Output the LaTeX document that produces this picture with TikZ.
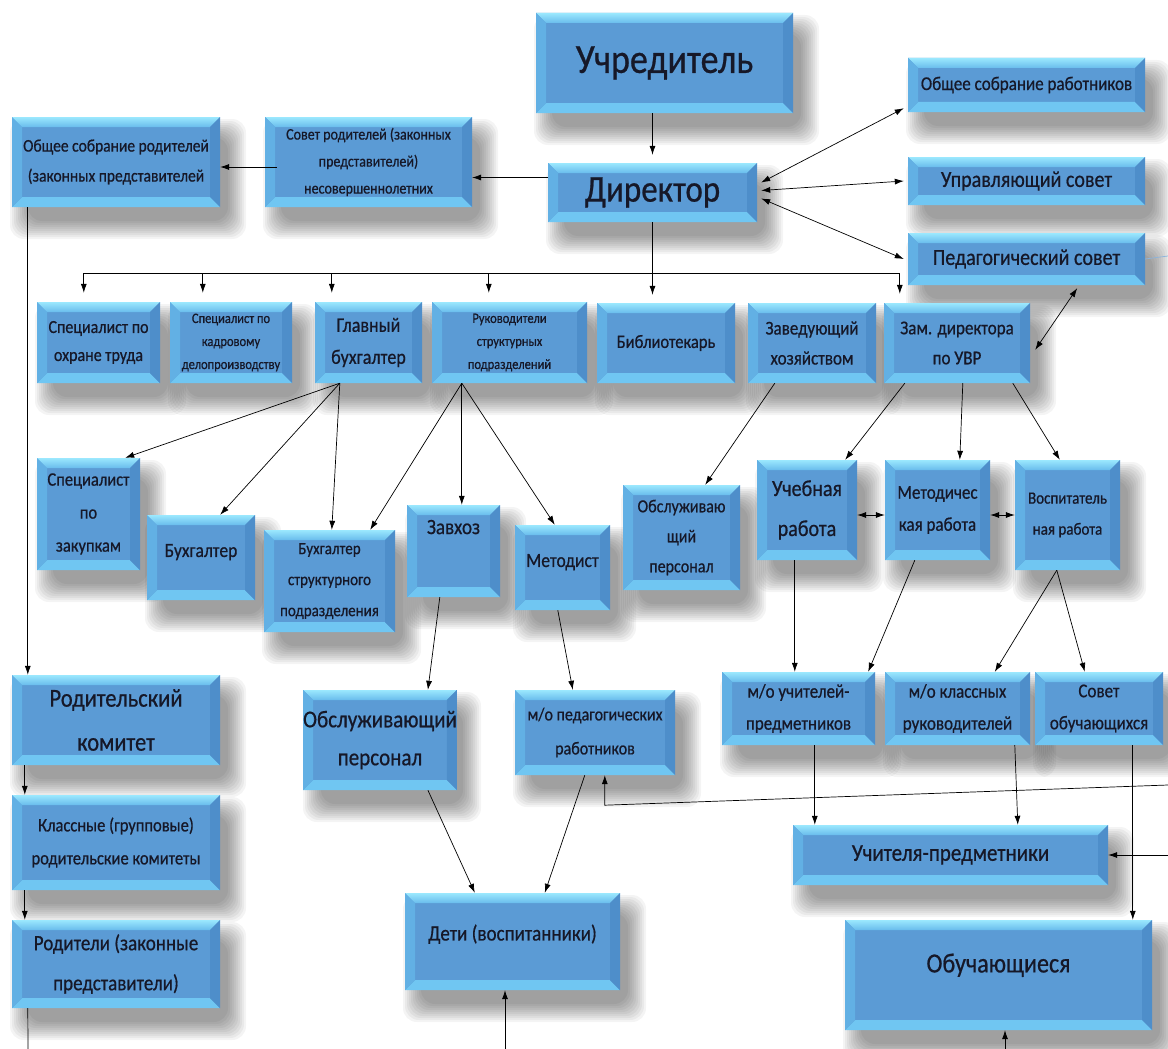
\documentclass[tikz,border=0pt]{standalone}
\usepackage{fontspec}
\setmainfont{Carlito}[FakeStretch=0.87,FakeBold=0.6]
\usetikzlibrary{arrows.meta,calc}
\definecolor{face}{RGB}{91,155,213}
\definecolor{bvtopA}{RGB}{155,232,254}
\definecolor{bvtopB}{RGB}{105,188,236}
\definecolor{bvbot}{RGB}{112,198,242}
\definecolor{bvleft}{RGB}{98,176,228}
\definecolor{bvright}{RGB}{78,142,202}
\definecolor{txt}{RGB}{22,24,40}
\definecolor{lblue}{RGB}{140,180,220}
\pgfdeclarelayer{bg}
\pgfsetlayers{bg,main}
\tikzset{
 bevel/.style={path picture={
  \coordinate (ppnw) at (path picture bounding box.north west);
  \coordinate (ppne) at (path picture bounding box.north east);
  \coordinate (ppsw) at (path picture bounding box.south west);
  \coordinate (ppse) at (path picture bounding box.south east);
  \fill[top color=bvtopA, bottom color=bvtopB] (ppnw) -- (ppne) -- ([shift={(-10pt,-10pt)}]ppne) -- ([shift={(10pt,-10pt)}]ppnw) -- cycle;
  \fill[bvbot] (ppsw) -- (ppse) -- ([shift={(-10pt,10pt)}]ppse) -- ([shift={(10pt,10pt)}]ppsw) -- cycle;
  \fill[bvleft] (ppnw) -- ([shift={(10pt,-10pt)}]ppnw) -- ([shift={(10pt,10pt)}]ppsw) -- (ppsw) -- cycle;
  \fill[bvright] (ppne) -- ([shift={(-10pt,-10pt)}]ppne) -- ([shift={(-10pt,10pt)}]ppse) -- (ppse) -- cycle;
 }},
 box/.style={fill=face, inner sep=0pt, align=center, text=txt, bevel},
 shadowpiece/.style={fill=black, rounded corners=14pt},
 arr/.style={-{Latex[length=9pt,width=6pt]}, line width=0.7pt},
 darr/.style={{Latex[length=9pt,width=6pt]}-{Latex[length=9pt,width=6pt]}, line width=0.7pt},
 ln/.style={line width=0.7pt}
}
\newcommand\mybox[8]{%
 \begin{pgfonlayer}{bg}
 \foreach \w in {36,32,28,24,20,16,12,8,4,0}{\fill[shadowpiece, opacity=0.042] ({#2+16-\w/2},{#3+20-\w/2}) rectangle ({#4+8+\w/2},{#5+14+\w/2});}
 \end{pgfonlayer}
 \pgfmathsetmacro\myfs{#6*1.15}%
 \node[box, font=\fontsize{\myfs}{#7}\selectfont, minimum width={(#4-#2)*1pt}, minimum height={(#5-#3)*1pt}] (#1) at ({(#2+#4)/2},{(#3+#5)/2}) {#8};}
\begin{document}
\begin{tikzpicture}[x=1pt,y=-1pt]
\begin{pgfonlayer}{bg}
\fill[white] (0,0) rectangle (1168,1049);
\end{pgfonlayer}
\useasboundingbox (0,0) rectangle (1168,1049);
% top
\mybox{uchr}{536}{13}{793}{113}{36}{40}{Учредитель}
\mybox{osr}{908}{58}{1145}{112}{17}{20}{Общее собрание работников}
\mybox{dir}{548}{163}{757}{222}{33}{36}{Директор}
\mybox{srod}{265}{117}{472}{207}{14}{27}{Совет родителей (законных\\представителей)\\несовершеннолетних}
\mybox{osrod}{12}{117}{220}{207}{15.5}{30}{Общее собрание родителей\\(законных представителей}
\mybox{us}{908}{157}{1145}{205}{20}{24}{Управляющий совет}
\mybox{ps}{908}{233}{1145}{285}{20}{24}{Педагогический совет}
% row 2
\mybox{sot}{37}{302}{160}{383}{16}{28}{Специалист по\\охране труда}
\mybox{skd}{170}{302}{292}{383}{12.5}{23}{Специалист по\\кадровому\\делопроизводству}
\mybox{gb}{315}{302}{422}{383}{18}{32}{Главный\\бухгалтер}
\mybox{rsp}{432}{302}{587}{383}{12.5}{23}{Руководители\\структурных\\подразделений}
\mybox{bib}{597}{303}{735}{383}{16.5}{20}{Библиотекарь}
\mybox{zh}{748}{303}{876}{383}{17}{30}{Заведующий\\хозяйством}
\mybox{zd}{884}{303}{1030}{383}{17}{30}{Зам. директора\\по УВР}
% row 3
\mybox{spz}{37}{458}{140}{570}{16.5}{33}{Специалист\\по\\закупкам}
\mybox{bux}{147}{515}{255}{600}{17.5}{14}{Бухгалтер\\~}
\mybox{bsp}{264}{530}{395}{632}{15}{31}{Бухгалтер\\структурного\\подразделения}
\mybox{zavh}{407}{505}{500}{597}{19}{48}{Завхоз\\~}
\mybox{met}{515}{525}{610}{610}{17.5}{14}{Методист\\~}
\mybox{obs1}{623}{485}{740}{590}{16}{30}{Обслуживаю\\щий\\персонал}
\mybox{ucheb}{757}{460}{857}{560}{20}{40}{Учебная\\работа}
\mybox{metr}{885}{460}{990}{560}{17}{32}{Методичес\\кая работа}
\mybox{vosp}{1015}{460}{1120}{570}{15}{31}{Воспитатель\\ная работа}
% row 4
\mybox{obs2}{305}{690}{455}{790}{21}{38}{Обслуживающий\\персонал}
\mybox{mop}{515}{690}{675}{775}{16}{34}{м/о педагогических\\работников}
\mybox{mou}{722}{672}{875}{745}{17}{32}{м/о учителей-\\предметников}
\mybox{mok}{885}{672}{1030}{745}{17}{32}{м/о классных\\руководителей}
\mybox{sob}{1035}{672}{1163}{745}{17}{32}{Совет\\обучающихся}
% row 5
\mybox{up}{793}{825}{1108}{885}{21}{24}{Учителя-предметники}
\mybox{deti}{405}{893}{620}{990}{19}{22}{Дети (воспитанники)\\[-4pt]~}
\mybox{obuch}{845}{920}{1152}{1030}{24}{30}{Обучающиеся\\[-6pt]~}
% left column
\mybox{rk}{12}{675}{220}{765}{22.5}{44}{Родительский\\комитет}
\mybox{kl}{12}{795}{220}{890}{16.5}{33}{Классные (групповые)\\родительские комитеты}
\mybox{rod}{12}{920}{220}{1008}{19}{40}{Родители (законные\\представители)}

% free ends
\coordinate (bl) at (28,1049);
\coordinate (bm) at (505,1049);
\coordinate (br) at (1005,1049);
\coordinate (rin1) at (1168,855);
\coordinate (rin2) at (1168,785);
\coordinate (rps) at (1168,256);

% director connections
\draw[arr,shorten >=8pt] (uchr.south -| dir.north) -- (dir.north);
\coordinate (d1) at ([yshift=15pt]dir.west);
\draw[arr] (d1) -- (d1 -| srod.east);
\coordinate (s1) at ([yshift=-5pt]srod.west);
\draw[arr] ([xshift=12pt]s1) -- (s1 -| osrod.east);
\draw[darr] ([shift={(4pt,10pt)}]dir.east) -- ([shift={(-4pt,4pt)}]osr.south west);
\draw[darr] ([shift={(4pt,2pt)}]dir.east) -- ([xshift=-4pt]us.west);
\draw[darr] ([shift={(4pt,-6pt)}]dir.east) -- ([xshift=-4pt]ps.west);
\draw[ln,lblue] (ps.east) -- (rps);
\draw[darr] ([shift={(-68pt,-3pt)}]ps.south east) -- ([shift={(5pt,-47pt)}]zd.north east);

% bus
\draw[arr,shorten >=8pt] (dir.south) -- (dir.south |- bib.north);
\coordinate (bus) at ([yshift=-51pt]dir.south);
\coordinate (t1) at ([xshift=47pt]sot.north west);
\coordinate (t2) at ([xshift=33pt]skd.north west);
\coordinate (t3) at ([xshift=17pt]gb.north west);
\coordinate (t4) at ([xshift=57pt]rsp.north west);
\coordinate (t5) at ([xshift=16pt]zd.north west);
\draw[ln] (t1 |- bus) -- (t5 |- bus);
\foreach \t in {t1,t2,t3,t4,t5} \draw[arr,shorten >=9pt] (\t |- bus) -- (\t);

% glavbuh
\coordinate (g0) at ([xshift=25pt]gb.south west);
\draw[arr] (g0) -- ([xshift=-15pt]spz.north east);
\draw[arr] (g0) -- ([xshift=-35pt]bux.north east);
\draw[arr] (g0) -- ([xshift=68pt]bsp.north west);
% rukovoditeli
\coordinate (r0) at ([xshift=30pt]rsp.south west);
\draw[arr] (r0) -- ([xshift=-25pt]bsp.north east);
\draw[arr] (r0) -- ([xshift=55pt]zavh.north west);
\draw[arr] (r0) -- ([xshift=40pt]met.north west);
% zavhoz
\draw[arr] ([xshift=27pt]zh.south west) -- ([xshift=-35pt]obs1.north east);
% zam dir
\draw[arr] ([xshift=21pt]zd.south west) -- ([xshift=-12pt]ucheb.north east);
\draw[arr] ([xshift=79pt]zd.south west) -- ([xshift=75pt]metr.north west);
\draw[arr] ([xshift=129pt]zd.south west) -- ([xshift=45pt]vosp.north west);
\draw[darr] ([yshift=-5pt]ucheb.east) -- ([yshift=-5pt]ucheb.east -| metr.west);
\draw[darr] ([yshift=-5pt]metr.east) -- ([yshift=-5pt]metr.east -| vosp.west);
% row3 -> row4
\draw[arr] ([xshift=33pt]zavh.south west) -- ([xshift=125pt]obs2.north west);
\draw[arr] ([xshift=43pt]met.south west) -- ([xshift=58pt]mop.north west);
\coordinate (u0) at ([xshift=38pt]ucheb.south west);
\draw[arr] (u0) -- (u0 |- mou.north);
\draw[arr] ([xshift=30pt]metr.south west) -- ([xshift=-7pt]mou.north east);
\coordinate (v0) at ([xshift=42pt]vosp.south west);
\draw[arr] (v0) -- ([xshift=110pt]mok.north west);
\draw[arr] (v0) -- ([xshift=50pt]sob.north west);
% row4 -> row5
\coordinate (m0) at ([xshift=93pt]mou.south west);
\draw[arr] (m0) -- (m0 |- up.north);
\draw[arr] ([xshift=130pt]mok.south west) -- ([xshift=225pt]up.north west);
\coordinate (so0) at ([xshift=98pt]sob.south west);
\draw[arr] (so0) -- (so0 |- obuch.north);
\draw[arr] (rin1) -- (up.east);
\coordinate (bend) at ([shift={(90pt,-30pt)}]mop.south west);
\draw[arr] (rin2) -- (bend) -- (bend |- mop.south);
\draw[arr] ([xshift=125pt]obs2.south west) -- ([xshift=70pt]deti.north west);
\draw[arr] ([xshift=70pt]mop.south west) -- ([xshift=140pt]deti.north west);
% bottom
\draw[arr] (bm) -- (bm |- deti.south);
\draw[arr] (br) -- (br |- obuch.south);
% left column
\draw[arr] ([xshift=16pt]osrod.south west) -- ([xshift=16pt]rk.north west);
\draw[arr] ([xshift=13pt]rk.south west) -- ([xshift=13pt]kl.north west);
\draw[arr] ([xshift=13pt]kl.south west) -- ([xshift=13pt]rod.north west);
\draw[ln] ([xshift=16pt]rod.south west) -- (bl);
\end{tikzpicture}
\end{document}
